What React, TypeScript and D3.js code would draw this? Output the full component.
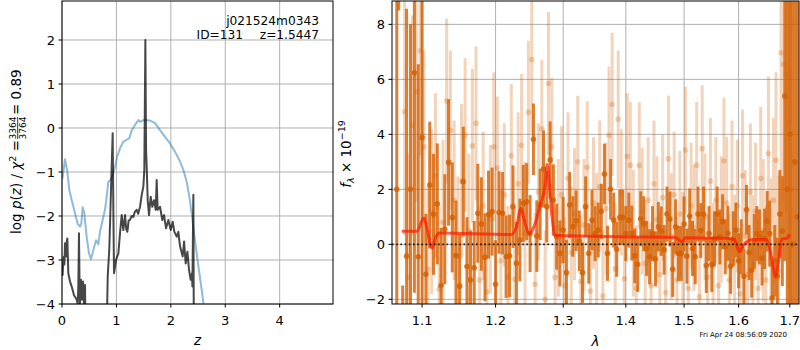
import React from 'react';
import * as d3 from 'd3';

// ---------- left panel data: redshift PDF ----------
const chiZ = [0.008,0.055,0.098,0.135,0.178,0.239,0.288,0.33,0.355,0.38,0.41,0.453,0.496,0.533,0.576,0.625,0.668,0.698,0.747,0.79,0.821,0.852,0.895,0.931,0.974,1.017,1.066,1.127,1.201,1.238,1.281,1.342,1.403,1.434,1.495,1.618,1.709,1.801,1.893,1.985,2.077,2.157,2.23,2.291,2.34,2.383,2.426,2.475,2.524,2.567,2.598,2.628];
const chiV = [-1.15,-0.71,-0.99,-1.41,-1.64,-1.94,-2.18,-2.24,-2.17,-1.8,-1.94,-2.47,-2.85,-2.98,-2.77,-2.55,-2.64,-2.36,-2.09,-1.86,-1.56,-1.22,-1.18,-1.07,-0.88,-0.64,-0.46,-0.31,-0.26,-0.23,-0.05,0.07,0.18,0.14,0.18,0.17,0.11,-0.05,-0.2,-0.35,-0.54,-0.73,-0.95,-1.22,-1.56,-1.94,-2.39,-2.85,-3.3,-3.68,-3.98,-4.29];

const pzZ = [0.005,0.012,0.025,0.037,0.045,0.055,0.065,0.074,0.085,0.098,0.107,0.116,0.147,0.178,0.221,0.27,0.288,0.3,0.312,0.322,0.33,0.349,0.368,0.386,0.404,0.423,0.441,0.8,0.84,0.87,0.895,0.931,0.945,0.956,0.993,1.036,1.066,1.097,1.127,1.158,1.18,1.201,1.225,1.25,1.28,1.311,1.34,1.373,1.4,1.434,1.465,1.495,1.513,1.532,1.545,1.556,1.575,1.599,1.63,1.66,1.691,1.722,1.74,1.758,1.801,1.844,1.875,1.912,1.955,1.998,2.034,2.065,2.108,2.138,2.169,2.218,2.243,2.273,2.304,2.335,2.365,2.39,2.396,2.414,2.426];
const pzV = [-3.3,-3.34,-2.95,-2.92,-3.1,-2.62,-2.8,-2.92,-2.6,-2.51,-2.9,-3.3,-3.49,-3.6,-3.8,-3.9,-4.0,-3.6,-2.39,-3.5,-4.0,-3.45,-3.9,-3.49,-4.0,-3.57,-6.0,-6.0,-3.38,-2.73,-1.64,-0.12,-2.0,-3.3,-3.0,-2.85,-2.39,-1.98,-2.32,-1.98,-2.3,-2.36,-2.1,-2.09,-2.0,-2.02,-1.9,-1.86,-1.95,-1.79,-1.52,-1.33,-0.95,2.0,-0.5,-0.88,-1.64,-1.98,-1.56,-1.79,-1.64,-1.86,-1.18,-1.86,-1.79,-2.09,-1.98,-2.28,-2.09,-2.32,-2.13,-2.36,-2.47,-2.36,-2.69,-2.92,-2.58,-3.08,-2.81,-3.23,-3.45,-3.3,-3.6,-1.52,-6.0];

const zTicks = [0, 1, 2, 3, 4];
const pTicks = [-4, -3, -2, -1, 0, 1, 2];

// ---------- right panel data: spectrum ----------
const lamD = [1.0675,1.07,1.075,1.08,1.085,1.09,1.095,1.1,1.105,1.11,1.115,1.12,1.125,1.13,1.135,1.14,1.145,1.15,1.155,1.16,1.165,1.17,1.175,1.18,1.185,1.19,1.195,1.2,1.205,1.21,1.215,1.22,1.225,1.23,1.235,1.24,1.245,1.25,1.255,1.26,1.265,1.27,1.275,1.28,1.285,1.29,1.295,1.3,1.305,1.31,1.315,1.32,1.325,1.33,1.335,1.34,1.345,1.35,1.355,1.36,1.365,1.37,1.375,1.38,1.385,1.39,1.395,1.4,1.405,1.41,1.415,1.42,1.425,1.43,1.435,1.44,1.445,1.45,1.455,1.46,1.465,1.47,1.475,1.48,1.485,1.49,1.495,1.5,1.505,1.51,1.515,1.52,1.525,1.53,1.535,1.54,1.545,1.55,1.555,1.56,1.565,1.57,1.575,1.58,1.585,1.59,1.595,1.6,1.605,1.61,1.615,1.62,1.625,1.63,1.635,1.64,1.645,1.65,1.655,1.66,1.665,1.67,1.675,1.68,1.685,1.69,1.695,1.7,1.705,1.71,1.715];
const fluxD = [2.0,14,-3.5,-0.43,2.0,6.24,-0.45,3.89,-1.09,2.16,1.09,1.47,-1.5,0.55,2.98,0.98,-0.41,-1.52,2.28,-0.81,-1.3,-0.85,1.13,0.74,-0.47,1.08,1.19,-1.45,1.16,1.13,-0.45,-0.42,1.37,-0.69,0.16,1.49,1.55,0.39,3.82,0.3,1.45,2.74,1.37,3.07,1.61,0.28,-0.33,0.52,-1.03,1.43,0.65,0.86,0.13,-1.03,1.37,-0.33,0.88,0.39,0.52,1.2,2.56,-0.33,2.0,0.88,-0.18,0.98,0.98,0.39,0.88,0.41,-0.42,-0.73,0.93,0.75,-0.15,-0.45,0.39,-0.53,0.64,0.48,-0.2,1.1,0.92,-0.91,0.64,-0.33,-0.33,0.74,-0.43,1.03,-0.15,-0.45,1.1,0.5,1.1,-0.77,0.39,-0.73,0.2,1.1,0.27,0.82,-0.09,0.4,-0.8,0.2,0.52,-0.6,-0.09,-1.16,1.26,-0.3,-0.94,0.1,0.39,0.27,-0.5,0.2,0.84,0.39,-1.94,-0.6,-1.16,1.1,0.48,5.39,2.0,4.0,0.0,3.0,1.0];
const errD = [10,5.5,2,9,6,8,7,7,2.2,2.3,2.2,2.2,2.1,2.0,2.3,2.0,2.0,1.9,2.0,1.8,1.8,1.7,1.8,1.7,1.6,1.6,1.6,1.6,1.5,1.5,1.5,1.5,1.5,1.5,1.5,1.4,1.4,1.4,1.3,1.3,1.3,1.4,1.3,1.4,1.3,1.2,1.2,1.2,1.2,1.2,1.1,1.1,1.1,1.1,1.1,1.1,1.1,1.0,1.0,1.0,1.1,1.0,1.1,1.0,1.0,1.0,1.0,1.0,1.0,1.0,1.0,1.0,1.0,1.0,1.0,1.0,1.0,1.0,0.9,0.9,0.9,1.0,1.0,1.0,1.0,1.0,1.0,1.0,1.0,1.0,1.0,1.0,1.0,1.0,1.0,1.0,1.0,1.0,1.0,1.0,1.0,1.0,1.0,1.0,1.0,1.0,1.0,1.0,1.0,1.0,0.9,1.0,1.0,1.0,1.0,1.0,1.0,1.1,1.1,1.2,1.3,1.3,1.4,1.6,2.0,6,10,10,12,12,12];

const lamL = [1.0775,1.0825,1.0875,1.0925,1.0975,1.1025,1.1075,1.1125,1.1175,1.1225,1.1275,1.1325,1.1375,1.1425,1.1475,1.1525,1.1575,1.1625,1.1675,1.1725,1.1775,1.1825,1.1875,1.1925,1.1975,1.2025,1.2075,1.2125,1.2175,1.2225,1.2275,1.2325,1.2375,1.2425,1.2475,1.2525,1.2575,1.2625,1.2675,1.2725,1.2775,1.2825,1.2875,1.2925,1.2975,1.3025,1.3075,1.3125,1.3175,1.3225,1.3275,1.3325,1.3375,1.3425,1.3475,1.3525,1.3575,1.3625,1.3675,1.3725,1.3775,1.3825,1.3875,1.3925,1.3975,1.4025,1.4075,1.4125,1.4175,1.4225,1.4275,1.4325,1.4375,1.4425,1.4475,1.4525,1.4575,1.4625,1.4675,1.4725,1.4775,1.4825,1.4875,1.4925,1.4975,1.5025,1.5075,1.5125,1.5175,1.5225,1.5275,1.5325,1.5375,1.5425,1.5475,1.5525,1.5575,1.5625,1.5675,1.5725,1.5775,1.5825,1.5875,1.5925,1.5975,1.6025,1.6075,1.6125,1.6175,1.6225,1.6275,1.6325,1.6375,1.6425,1.6475,1.6525,1.6575,1.6625,1.6675,1.6725,1.6775,1.6825,1.6875,1.6925,1.6975,1.7025];
const fluxL = [4.82,-1.2,4.33,5.55,7.04,3.55,-0.9,1.19,2.5,-1.63,0.8,5.21,4.15,1.6,-0.43,2.3,3.97,0.5,3.58,4.4,-1.3,1.4,-1.73,0.9,3.55,2.77,-0.6,1.8,-1.2,3.23,-1.27,2.2,3.6,0.4,4.8,6.72,-1.45,1.9,4.2,-2.0,5.85,3.55,-1.2,0.6,1.8,-1.5,2.4,-0.3,1.1,3.0,-1.35,0.7,2.8,-1.7,1.5,0.2,2.1,-1.88,1.3,3.97,5.09,-0.9,4.55,1.9,-1.25,3.2,2.88,0.4,-1.6,2.87,1.2,-0.7,1.6,-1.5,2.2,0.9,-1.1,1.7,-1.75,3.11,0.3,1.8,-1.3,1.1,-0.4,3.43,-1.6,1.4,0.6,2.88,-1.9,3.48,1.0,-1.2,2.3,-0.8,1.6,-1.5,0.9,3.03,1.5,-1.3,2.1,-0.6,1.4,-1.8,2.5,0.3,-1.1,1.9,-0.7,1.2,-1.6,2.4,0.5,-1.3,3.3,-0.5,1.6,3.06,-1.0,6.97,6.55,6.2,4.44,2.0];
const errL = [4.5,4.5,4.0,4.0,3.8,3.5,3.0,3.0,3.0,3.0,3.0,3.0,2.9,2.9,2.9,2.8,2.8,2.8,2.8,2.8,2.7,2.7,2.7,2.7,2.7,2.6,2.6,2.6,2.6,2.6,2.6,2.6,2.6,2.6,2.6,2.7,2.6,2.5,2.5,2.5,2.6,2.5,2.5,2.5,2.5,2.5,2.4,2.4,2.4,2.4,2.4,2.4,2.4,2.4,2.4,2.4,2.4,2.4,2.4,2.5,2.6,2.4,2.5,2.3,2.3,2.3,2.3,2.3,2.3,2.3,2.3,2.3,2.3,2.3,2.3,2.3,2.3,2.3,2.3,2.3,2.3,2.3,2.3,2.3,2.3,2.3,2.3,2.3,2.3,2.3,2.3,2.3,2.3,2.3,2.3,2.3,2.3,2.3,2.3,2.3,2.4,2.4,2.4,2.4,2.4,2.4,2.4,2.4,2.5,2.5,2.5,2.5,2.5,2.6,2.6,2.7,2.8,2.9,3.0,3.2,3.5,4.5,5,5,6,8];

const modelLam = [1.0738,1.0934,1.102,1.1074,1.111,1.1135,1.1176,1.1233,1.2228,1.23,1.2366,1.2426,1.2485,1.2575,1.2657,1.2722,1.2756,1.2791,1.2829,1.2879,1.4121,1.4845,1.4966,1.5022,1.5777,1.592,1.6016,1.6112,1.627,1.6535,1.6602,1.6667,1.6715,1.6768,1.6835,1.6939,1.7];
const modelFlux = [0.48,0.48,0.95,0.45,-0.05,-0.13,0.25,0.41,0.36,0.64,1.31,0.77,0.39,0.76,1.49,2.1,2.9,2.1,1.0,0.33,0.27,0.25,0.09,0.24,0.22,0.16,-0.27,0.02,0.18,0.18,-0.15,-0.82,-1.18,-0.7,0.18,0.22,0.36];

const lamTicks = [1.1, 1.2, 1.3, 1.4, 1.5, 1.6, 1.7];
const fTicks = [-2, 0, 2, 4, 6, 8];

const FONT = 'DejaVu Sans, sans-serif';
const ORANGE = '#d45f00';
const fmtMinus = (v: number) => (v < 0 ? '\u2212' + Math.abs(v) : String(v));

export default function App() {
  const W = 800, H = 350;
  const L = { x0: 62, x1: 333, y0: 1, y1: 304 };
  const R = { x0: 392, x1: 799, y0: 1, y1: 304 };

  const zx = d3.scaleLinear().domain([0, 4.98]).range([L.x0, L.x1]);
  const zy = d3.scaleLinear().domain([-4, 2.886]).range([L.y1, L.y0]);
  const lx = d3.scaleLog().domain([1.0615, 1.7186]).range([R.x0, R.x1]);
  const ly = d3.scaleLinear().domain([-2.17, 8.85]).range([R.y1, R.y0]);

  const chiLine = d3.line<number>().x((d, i) => zx(chiZ[i])).y(d => zy(d));
  const pzLine = d3.line<number>().x((d, i) => zx(pzZ[i])).y(d => zy(d));
  const modelLine = d3.line<number>().x((d, i) => lx(modelLam[i])).y(d => ly(d)).curve(d3.curveMonotoneX);

  const grid = '#b0b0b0';
  const fs = 13;

  return (
    <svg width={W} height={H} style={{ position: 'absolute', left: 0, top: 0, background: '#fff' }} fontFamily={FONT}>
      <defs>
        <clipPath id="clipL"><rect x={L.x0} y={L.y0} width={L.x1 - L.x0} height={L.y1 - L.y0} /></clipPath>
        <clipPath id="clipR"><rect x={R.x0} y={R.y0} width={R.x1 - R.x0} height={R.y1 - R.y0} /></clipPath>
      </defs>
      <rect x={0} y={0} width={W} height={H} fill="#fff" />

      {/* ---------- LEFT PANEL ---------- */}
      <g>
        {zTicks.map(t => (
          <line key={'gzx' + t} x1={zx(t)} x2={zx(t)} y1={L.y0} y2={L.y1} stroke={grid} strokeWidth={1} />
        ))}
        {pTicks.map(t => (
          <line key={'gzy' + t} x1={L.x0} x2={L.x1} y1={zy(t)} y2={zy(t)} stroke={grid} strokeWidth={1} />
        ))}
        <g clipPath="url(#clipL)">
          <path d={chiLine(chiV) || ''} fill="none" stroke="#1f77b4" strokeOpacity={0.5} strokeWidth={2} strokeLinejoin="round" />
          <path d={pzLine(pzV) || ''} fill="none" stroke="#000" strokeOpacity={0.72} strokeWidth={2} strokeLinejoin="round" />
        </g>
        <rect x={L.x0} y={L.y0} width={L.x1 - L.x0} height={L.y1 - L.y0} fill="none" stroke="#000" strokeWidth={1} />
        {zTicks.map(t => (
          <g key={'tzx' + t}>
            <line x1={zx(t)} x2={zx(t)} y1={L.y1} y2={L.y1 + 3.5} stroke="#000" />
            <text x={zx(t)} y={325} fontSize={fs} textAnchor="middle">{t}</text>
          </g>
        ))}
        {pTicks.map(t => (
          <g key={'tzy' + t}>
            <line x1={L.x0 - 3.5} x2={L.x0} y1={zy(t)} y2={zy(t)} stroke="#000" />
            <text x={L.x0 - 7} y={zy(t) + 4.7} fontSize={fs} textAnchor="end">{fmtMinus(t)}</text>
          </g>
        ))}
        <text x={(L.x0 + L.x1) / 2} y={345} fontSize={fs + 0.5} textAnchor="middle" fontStyle="italic">z</text>
        <g transform="translate(21,152) rotate(-90)" fontSize={13.5}>
          <text x={12} y={0} textAnchor="end">
            log <tspan fontStyle="italic">p</tspan>(<tspan fontStyle="italic">z</tspan>) / <tspan fontStyle="italic">χ</tspan>
            <tspan fontSize={9.5} dy={-5}>2</tspan><tspan dy={5}> = </tspan>
          </text>
          <text x={24} y={-5} fontSize={9} textAnchor="middle">3364</text>
          <line x1={13} x2={35} y1={-3.3} y2={-3.3} stroke="#000" strokeWidth={0.8} />
          <text x={24} y={4.5} fontSize={9} textAnchor="middle">3764</text>
          <text x={37} y={0} textAnchor="start"> = 0.89</text>
        </g>
        <text x={319} y={25} fontSize={12.2} textAnchor="end">j021524m0343</text>
        <text x={243} y={39} fontSize={12.2} textAnchor="end">ID=131</text>
        <text x={319} y={39} fontSize={12.2} textAnchor="end">z=1.5447</text>
      </g>

      {/* ---------- RIGHT PANEL ---------- */}
      <g>
        {lamTicks.map(t => (
          <line key={'glx' + t} x1={lx(t)} x2={lx(t)} y1={R.y0} y2={R.y1} stroke={grid} strokeWidth={1} />
        ))}
        {fTicks.map(t => (
          <line key={'gly' + t} x1={R.x0} x2={R.x1} y1={ly(t)} y2={ly(t)} stroke={grid} strokeWidth={1} />
        ))}
        <g clipPath="url(#clipR)">
          <g opacity={0.27}>
            {lamL.map((l, i) => (
              <line key={'el' + i} x1={lx(l)} x2={lx(l)} y1={ly(fluxL[i] - errL[i])} y2={ly(fluxL[i] + errL[i])} stroke={ORANGE} strokeWidth={3} />
            ))}
          </g>
          {lamL.map((l, i) => (
            <circle key={'pl' + i} cx={lx(l)} cy={ly(fluxL[i])} r={2.8} fill={ORANGE} fillOpacity={0.27} />
          ))}
          {lamD.map((l, i) => (
            <line key={'ed' + i} x1={lx(l)} x2={lx(l)} y1={ly(fluxD[i] - errD[i])} y2={ly(fluxD[i] + errD[i])} stroke={ORANGE} strokeOpacity={0.8} strokeWidth={3} />
          ))}
          {lamD.map((l, i) => (
            <circle key={'pd' + i} cx={lx(l)} cy={ly(fluxD[i])} r={2.8} fill={ORANGE} fillOpacity={0.8} />
          ))}
          <path d={modelLine(modelFlux) || ''} fill="none" stroke="#ff1a00" strokeOpacity={0.7} strokeWidth={3} strokeLinejoin="round" />
          <line x1={R.x0} x2={R.x1} y1={ly(0)} y2={ly(0)} stroke="#000" strokeWidth={1.6} strokeDasharray="1.6,2.6" opacity={0.85} />
        </g>
        <rect x={R.x0} y={R.y0} width={R.x1 - R.x0} height={R.y1 - R.y0} fill="none" stroke="#000" strokeWidth={1} />
        {lamTicks.map(t => (
          <g key={'tlx' + t}>
            <line x1={lx(t)} x2={lx(t)} y1={R.y1} y2={R.y1 + 3.5} stroke="#000" />
            <text x={lx(t)} y={325} fontSize={fs} textAnchor="middle">{t.toFixed(1)}</text>
          </g>
        ))}
        {fTicks.map(t => (
          <g key={'tly' + t}>
            <line x1={R.x0 - 3.5} x2={R.x0} y1={ly(t)} y2={ly(t)} stroke="#000" />
            <text x={R.x0 - 7} y={ly(t) + 4.7} fontSize={fs} textAnchor="end">{fmtMinus(t)}</text>
          </g>
        ))}
        <text x={(R.x0 + R.x1) / 2} y={346} fontSize={fs + 0.5} textAnchor="middle" fontStyle="italic">λ</text>
        <g transform="translate(351,154) rotate(-90)" fontSize={13.5}>
          <text x={0} y={0} textAnchor="middle">
            <tspan fontStyle="italic">f</tspan><tspan fontSize={9.5} dy={3} fontStyle="italic">λ</tspan><tspan dy={-3}> × 10</tspan><tspan fontSize={9.5} dy={-6}>−19</tspan>
          </text>
        </g>
        <text x={787} y={337} fontSize={7} textAnchor="end">Fri Apr 24 08:56:09 2020</text>
      </g>
    </svg>
  );
}
